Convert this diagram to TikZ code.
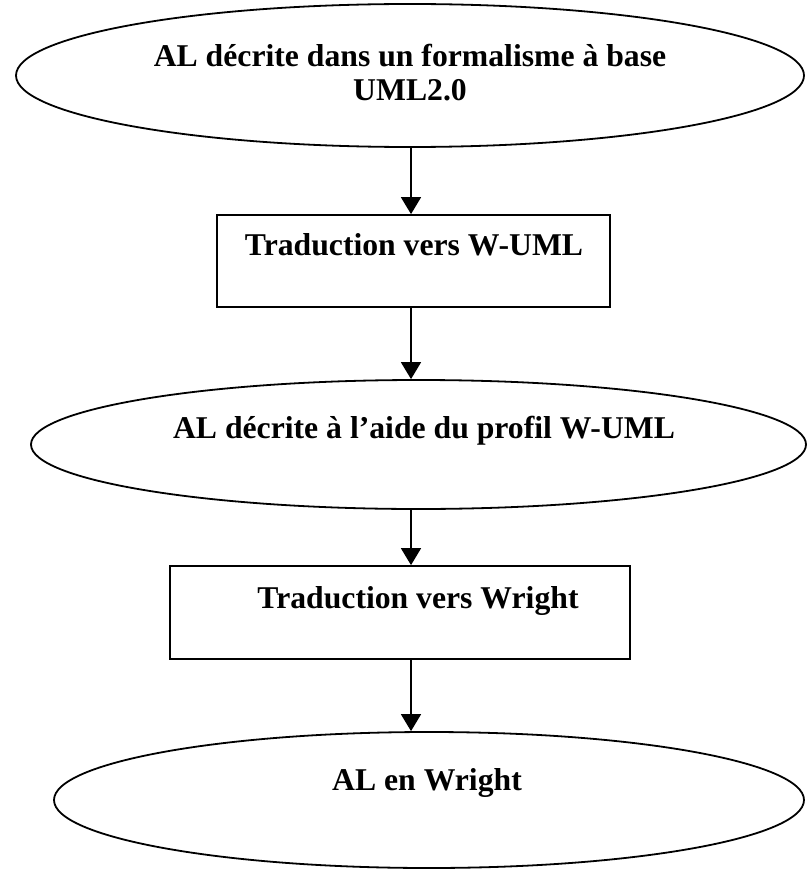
\documentclass[tikz,border=0pt]{standalone}
\usepackage{fontspec}
\setmainfont{Liberation Serif}
\usetikzlibrary{shapes.geometric,arrows.meta}
\begin{document}
\begin{tikzpicture}[x=1pt,y=-1pt,
  outline/.style={draw=black,line width=1.8pt},
  stage/.style={outline,ellipse,inner sep=0pt},
  stepbox/.style={outline,rectangle,inner sep=0pt},
  caption/.style={anchor=base,inner sep=0pt,align=center,
    font=\fontsize{31.7}{34}\selectfont\bfseries},
  flow/.style={draw=black,line width=1.8pt,-{Triangle[length=17pt,width=20pt]}}]
\useasboundingbox (0,0) rectangle (810,869);

% shapes of the chain
\node[stage, minimum width=788pt, minimum height=143pt] (e1) at (410,75.5) {};
\node[stepbox, minimum width=393pt, minimum height=92pt] (r1) at (413.5,261) {};
\node[stage, minimum width=775pt, minimum height=129pt] (e2) at (418.5,444.5) {};
\node[stepbox, minimum width=460pt, minimum height=93pt] (r2) at (400,612.5) {};
\node[stage, minimum width=750pt, minimum height=136pt] (e3) at (429,800) {};

% texts (the base anchor of a two-line node sits on its last line)
\node[caption] (t1) at (410,101) {AL décrite dans un formalisme à base\\UML2.0};
\node[caption] (t2) at (414,255) {Traduction vers W-UML};
\node[caption] (t3) at (424,438) {AL décrite à l’aide du profil W-UML};
\node[caption] (t4) at (418,608) {Traduction vers Wright};
\node[caption] (t5) at (427,790) {AL en Wright};

% vertical connectors
\coordinate (axis) at (411,0);
\draw[flow] (axis |- e1.south) -- (axis |- r1.north);
\draw[flow] (axis |- r1.south) -- (axis |- e2.north);
\draw[flow] (axis |- e2.south) -- (axis |- r2.north);
\draw[flow] (axis |- r2.south) -- (axis |- e3.north);
\end{tikzpicture}
\end{document}
